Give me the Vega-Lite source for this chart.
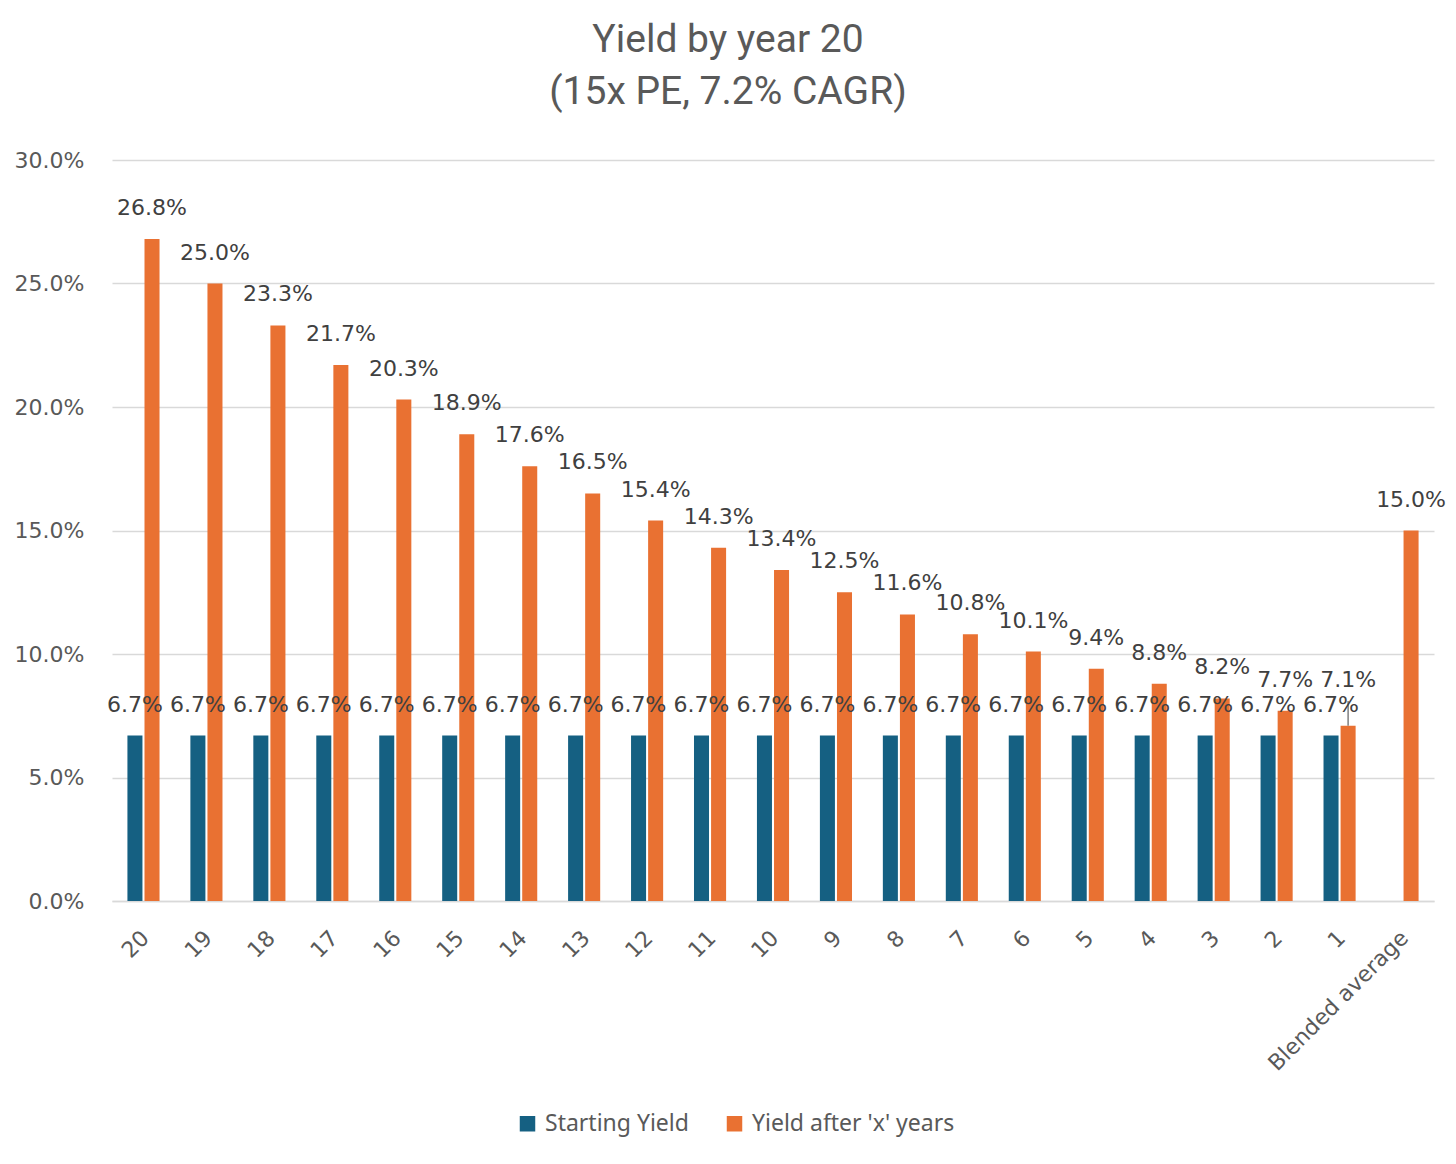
{
  "$schema": "https://vega.github.io/schema/vega-lite/v6.json",
  "width": 1322,
  "height": 741,
  "autosize": {"type": "none"},
  "padding": {"left": 112, "top": 160, "right": 22, "bottom": 263},
  "background": "white",
  "title": {
    "text": ["Yield by year 20", "(15x PE, 7.2% CAGR)"],
    "font": "Roboto",
    "fontSize": 39,
    "fontWeight": "normal",
    "color": "#595959",
    "lineHeight": 52,
    "anchor": "middle",
    "dx": -45,
    "offset": 37
  },
  "data": {
    "values": [
      {"year": "20", "series": "Starting Yield", "yield": 0.067},
      {"year": "20", "series": "Yield after 'x' years", "yield": 0.268},
      {"year": "19", "series": "Starting Yield", "yield": 0.067},
      {"year": "19", "series": "Yield after 'x' years", "yield": 0.25},
      {"year": "18", "series": "Starting Yield", "yield": 0.067},
      {"year": "18", "series": "Yield after 'x' years", "yield": 0.233},
      {"year": "17", "series": "Starting Yield", "yield": 0.067},
      {"year": "17", "series": "Yield after 'x' years", "yield": 0.217},
      {"year": "16", "series": "Starting Yield", "yield": 0.067},
      {"year": "16", "series": "Yield after 'x' years", "yield": 0.203},
      {"year": "15", "series": "Starting Yield", "yield": 0.067},
      {"year": "15", "series": "Yield after 'x' years", "yield": 0.189},
      {"year": "14", "series": "Starting Yield", "yield": 0.067},
      {"year": "14", "series": "Yield after 'x' years", "yield": 0.176},
      {"year": "13", "series": "Starting Yield", "yield": 0.067},
      {"year": "13", "series": "Yield after 'x' years", "yield": 0.165},
      {"year": "12", "series": "Starting Yield", "yield": 0.067},
      {"year": "12", "series": "Yield after 'x' years", "yield": 0.154},
      {"year": "11", "series": "Starting Yield", "yield": 0.067},
      {"year": "11", "series": "Yield after 'x' years", "yield": 0.143},
      {"year": "10", "series": "Starting Yield", "yield": 0.067},
      {"year": "10", "series": "Yield after 'x' years", "yield": 0.134},
      {"year": "9", "series": "Starting Yield", "yield": 0.067},
      {"year": "9", "series": "Yield after 'x' years", "yield": 0.125},
      {"year": "8", "series": "Starting Yield", "yield": 0.067},
      {"year": "8", "series": "Yield after 'x' years", "yield": 0.116},
      {"year": "7", "series": "Starting Yield", "yield": 0.067},
      {"year": "7", "series": "Yield after 'x' years", "yield": 0.108},
      {"year": "6", "series": "Starting Yield", "yield": 0.067},
      {"year": "6", "series": "Yield after 'x' years", "yield": 0.101},
      {"year": "5", "series": "Starting Yield", "yield": 0.067},
      {"year": "5", "series": "Yield after 'x' years", "yield": 0.094},
      {"year": "4", "series": "Starting Yield", "yield": 0.067},
      {"year": "4", "series": "Yield after 'x' years", "yield": 0.088},
      {"year": "3", "series": "Starting Yield", "yield": 0.067},
      {"year": "3", "series": "Yield after 'x' years", "yield": 0.082},
      {"year": "2", "series": "Starting Yield", "yield": 0.067},
      {"year": "2", "series": "Yield after 'x' years", "yield": 0.077},
      {"year": "1", "series": "Starting Yield", "yield": 0.067},
      {"year": "1", "series": "Yield after 'x' years", "yield": 0.071},
      {"year": "Blended average", "series": "Yield after 'x' years", "yield": 0.15}
    ]
  },
  "encoding": {
    "x": {
      "field": "year",
      "type": "nominal",
      "sort": null,
      "title": null,
      "scale": {"paddingInner": 0.49, "paddingOuter": 0.245},
      "axis": {
        "labelAngle": -45,
        "labelFont": "DejaVu Sans",
        "labelFontSize": 22,
        "labelColor": "#595959",
        "labelPadding": 26,
        "labelOffset": -5,
        "labelLimit": 0,
        "ticks": false,
        "domainColor": "#d9d9d9",
        "domainWidth": 1.5,
        "grid": false
      }
    },
    "xOffset": {
      "field": "series",
      "type": "nominal",
      "scale": {"domain": ["Starting Yield", "Yield after 'x' years"], "paddingInner": 0.12, "paddingOuter": 0}
    },
    "y": {
      "field": "yield",
      "type": "quantitative",
      "title": null,
      "scale": {"domain": [0, 0.3], "nice": false},
      "axis": {
        "format": ".1%",
        "values": [0, 0.05, 0.1, 0.15, 0.2, 0.25, 0.3],
        "labelFont": "DejaVu Sans",
        "labelFontSize": 22,
        "labelColor": "#595959",
        "labelPadding": 28,
        "ticks": false,
        "domain": false,
        "gridColor": "#d9d9d9",
        "gridWidth": 1.5
      }
    }
  },
  "layer": [
    {
      "mark": {"type": "bar"},
      "encoding": {
        "color": {
          "field": "series",
          "type": "nominal",
          "title": null,
          "scale": {"domain": ["Starting Yield", "Yield after 'x' years"], "range": ["#156082", "#E97132"]},
          "legend": {
            "orient": "none",
            "direction": "horizontal",
            "legendX": 404,
            "legendY": 952,
            "symbolType": "square",
            "symbolSize": 240,
            "symbolStrokeWidth": 0,
            "labelFont": "Noto Sans",
            "labelFontSize": 23,
            "labelColor": "#595959",
            "labelLimit": 0,
            "columnPadding": 34,
            "labelOffset": 6
          }
        }
      }
    },
    {
      "transform": [{"filter": "datum.year === '1' && datum.series !== 'Starting Yield'"}],
      "mark": {"type": "rule", "color": "#7f7f7f", "strokeWidth": 1.5},
      "encoding": {
        "y2": {"datum": 0.081}
      }
    },
    {
      "transform": [{"filter": "!(datum.year === '1' && datum.series !== 'Starting Yield')"}],
      "mark": {
        "type": "text",
        "font": "DejaVu Sans",
        "fontSize": 22,
        "color": "#404040",
        "baseline": "middle",
        "align": "center",
        "dy": -31
      },
      "encoding": {
        "text": {"field": "yield", "type": "quantitative", "format": ".1%"}
      }
    },
    {
      "transform": [{"filter": "datum.year === '1' && datum.series !== 'Starting Yield'"}],
      "mark": {
        "type": "text",
        "font": "DejaVu Sans",
        "fontSize": 22,
        "color": "#404040",
        "baseline": "middle",
        "align": "center",
        "dy": -46
      },
      "encoding": {
        "text": {"field": "yield", "type": "quantitative", "format": ".1%"}
      }
    }
  ],
  "config": {
    "view": {"stroke": null}
  }
}
